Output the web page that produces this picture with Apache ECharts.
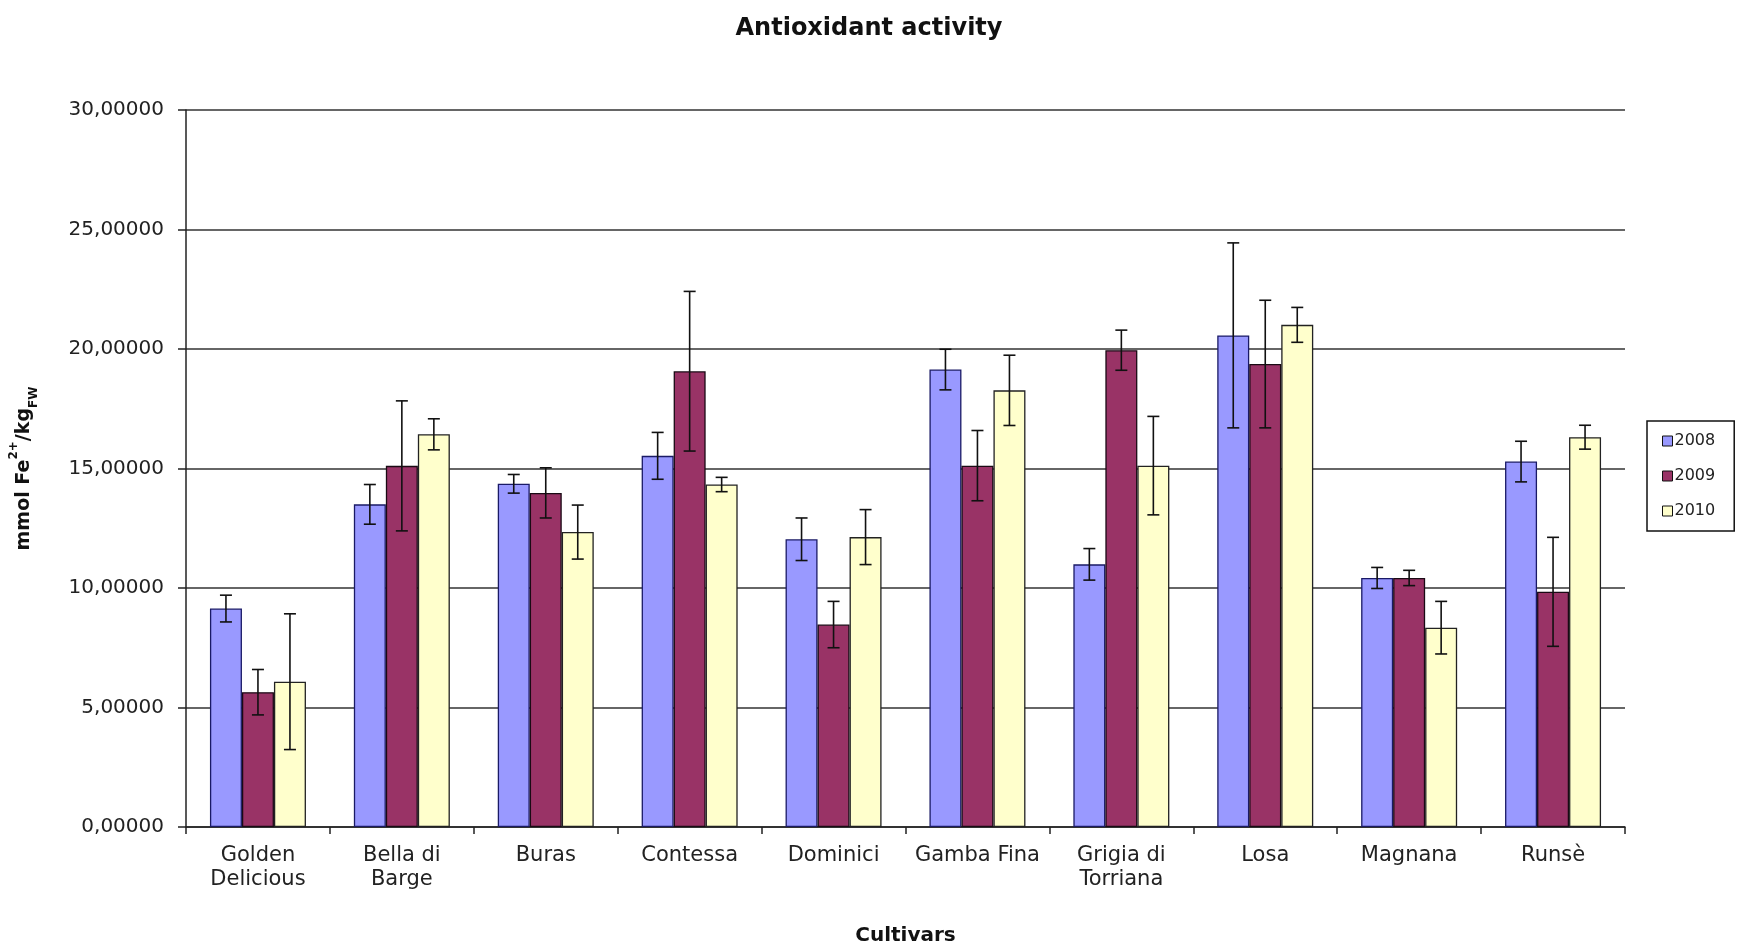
<!DOCTYPE html>
<html>
<head>
<meta charset="utf-8">
<script src="https://cdn.jsdelivr.net/npm/echarts@6/dist/echarts.min.js"></script>
<style>
html,body{margin:0;padding:0;background:#fff;}
#chart{width:1738px;height:951px;}
</style>
</head>
<body>
<div id="chart"></div>
<script>
var categories = ['Golden\nDelicious','Bella di\nBarge','Buras','Contessa','Dominici','Gamba Fina','Grigia di\nTorriana','Losa','Magnana','Runsè'];
var seriesNames = ['2008','2009','2010'];
var values2008 = [9.14, 13.50, 14.36, 15.53, 12.04, 19.14, 10.99, 20.57, 10.42, 15.29];
var values2009 = [5.64, 15.11, 13.98, 19.07, 8.47, 15.12, 19.95, 19.37, 10.42, 9.84];
var values2010 = [6.08, 16.43, 12.34, 14.33, 12.13, 18.27, 15.12, 21.01, 8.34, 16.31];
var err2008 = [0.56, 0.83, 0.39, 0.98, 0.89, 0.85, 0.66, 3.87, 0.44, 0.85];
var err2009 = [0.95, 2.72, 1.05, 3.34, 0.97, 1.47, 0.84, 2.67, 0.32, 2.28];
var err2010 = [2.84, 0.65, 1.13, 0.30, 1.15, 1.47, 2.06, 0.73, 1.10, 0.50];
var yTickLabels = ['0,00000','5,00000','10,00000','15,00000','20,00000','25,00000','30,00000'];

var colors = ['#9999FF','#993366','#FFFFCC'];
var borderColors = ['#1a1a66','#1a0a14','#222222'];
var allValues = [values2008, values2009, values2010];
var allErr = [err2008, err2009, err2010];
var BAR_W = 32;
var FONT = 'DejaVu Sans';

var series = [];
seriesNames.forEach(function(name, k){
  series.push({
    name: name,
    type: 'bar',
    data: allValues[k],
    barWidth: BAR_W,
    barGap: '0%',
    itemStyle: {color: colors[k], borderColor: borderColors[k], borderWidth: 1.3},
    z: 2
  });
});
seriesNames.forEach(function(name, k){
  var data = allValues[k].map(function(v, i){ return [i, v, allErr[k][i]]; });
  series.push({
    type: 'custom',
    name: name + ' err',
    data: data,
    z: 5,
    silent: true,
    renderItem: function(params, api){
      var i = api.value(0), v = api.value(1), e = api.value(2);
      var top = api.coord([i, v + e]);
      var bot = api.coord([i, v - e]);
      var x = top[0] + (k - 1) * BAR_W;
      var cap = 6;
      var st = {stroke: '#111', lineWidth: 1.6};
      return {type: 'group', children: [
        {type: 'line', shape: {x1: x, y1: top[1], x2: x, y2: bot[1]}, style: st},
        {type: 'line', shape: {x1: x - cap, y1: top[1], x2: x + cap, y2: top[1]}, style: st},
        {type: 'line', shape: {x1: x - cap, y1: bot[1], x2: x + cap, y2: bot[1]}, style: st}
      ]};
    }
  });
});

var chart = echarts.init(document.getElementById('chart'));
chart.setOption({
  backgroundColor: '#fff',
  animation: false,
  title: {
    text: 'Antioxidant activity',
    left: 'center',
    top: 12,
    textStyle: {fontFamily: FONT, fontSize: 24, fontWeight: 'bold', color: '#111'}
  },
  legend: {
    data: seriesNames,
    orient: 'vertical',
    left: 1647,
    top: 421,
    padding: [12, 19, 12, 15],
    itemGap: 19,
    itemWidth: 10,
    itemHeight: 10,
    borderColor: '#111',
    borderWidth: 1.5,
    icon: 'rect',
    itemStyle: {borderColor: '#111', borderWidth: 1},
    textStyle: {fontFamily: FONT, fontSize: 16, color: '#222', padding: [0,0,0,-3]}
  },
  grid: {left: 172, right: 113, top: 110, bottom: 109, containLabel: false},
  xAxis: {
    type: 'category',
    data: categories,
    name: 'Cultivars',
    nameLocation: 'middle',
    nameGap: 99,
    nameTextStyle: {fontFamily: FONT, fontSize: 20, fontWeight: 'bold', color: '#111'},
    axisLine: {lineStyle: {color: '#222', width: 1.5}},
    axisTick: {show: true, alignWithLabel: false, length: 7, lineStyle: {color: '#222', width: 1.5}},
    axisLabel: {fontFamily: FONT, fontSize: 21, color: '#222', lineHeight: 24, margin: 17, interval: 0}
  },
  yAxis: {
    type: 'value',
    min: 0,
    max: 30,
    interval: 5,
    name: '{a|mmol Fe}{sup|2+}{a|/kg}{sub|FW}',
    nameLocation: 'middle',
    nameGap: 146,
    nameRotate: 90,
    nameTextStyle: {
      rich: {
        a: {fontFamily: FONT, fontSize: 19, fontWeight: 'bold', color: '#111', lineHeight: 32, verticalAlign: 'middle'},
        sup: {fontFamily: FONT, fontSize: 12, fontWeight: 'bold', color: '#111', lineHeight: 32, verticalAlign: 'top'},
        sub: {fontFamily: FONT, fontSize: 12, fontWeight: 'bold', color: '#111', lineHeight: 32, verticalAlign: 'bottom'}
      }
    },
    axisLine: {show: true, lineStyle: {color: '#222', width: 1.5}},
    axisTick: {show: true, length: 8, lineStyle: {color: '#222', width: 1.5}},
    axisLabel: {
      fontFamily: FONT, fontSize: 20, color: '#222', margin: 22,
      formatter: function(v){ return yTickLabels[Math.round(v / 5)]; }
    },
    splitLine: {show: true, lineStyle: {color: '#666', width: 2}}
  },
  series: series
});
</script>
</body>
</html>
